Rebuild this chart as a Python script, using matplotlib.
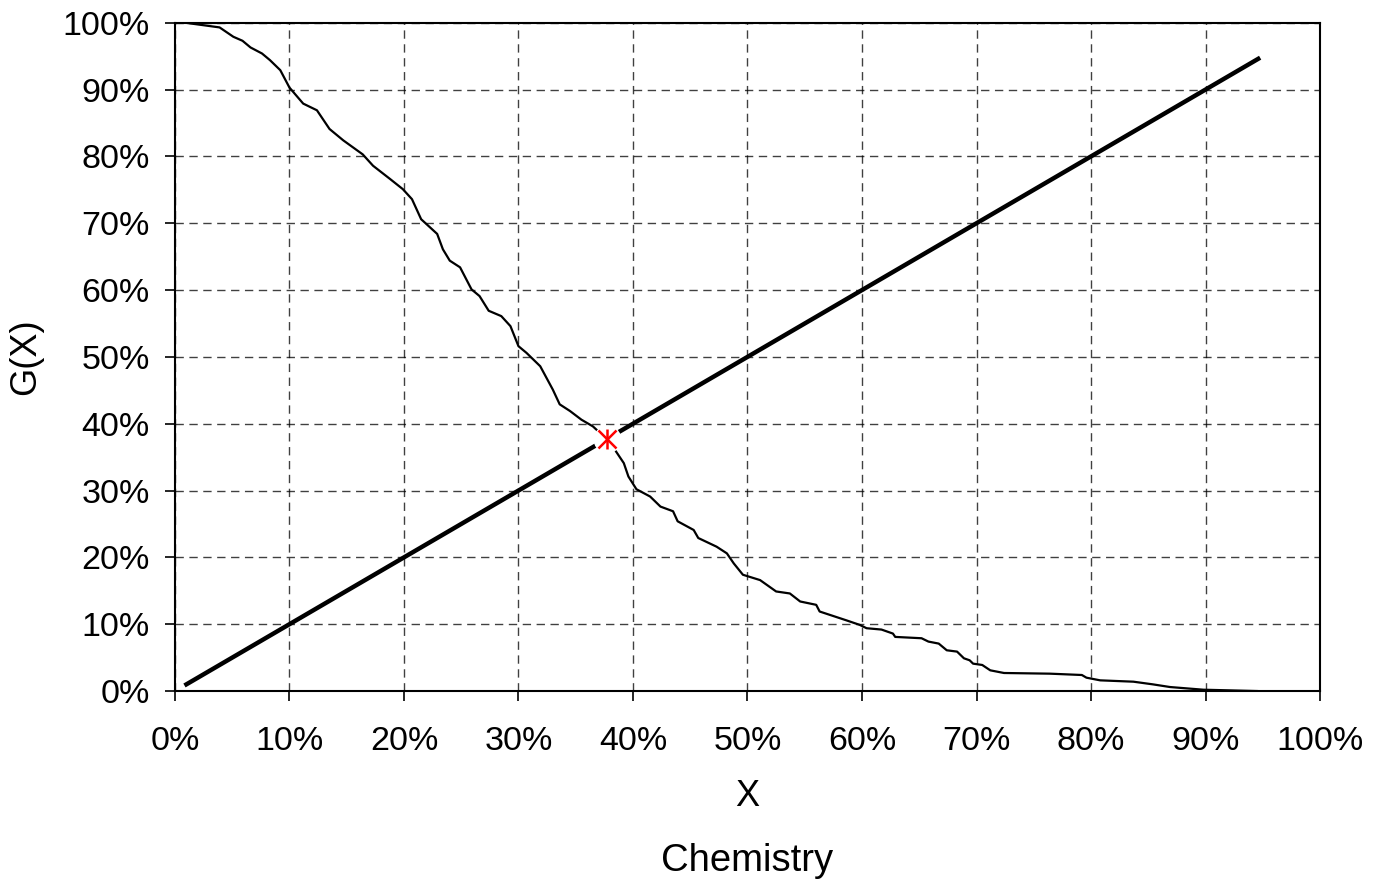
import matplotlib.pyplot as plt
from matplotlib.ticker import MultipleLocator, FuncFormatter

plt.rcParams['font.family'] = ['Liberation Sans', 'DejaVu Sans']

# descending curve G(X) (percent)
curve_x = [0.9, 3.9, 5.1, 5.9, 6.6, 7.6, 8.3, 9.2, 10.0, 11.2, 12.4, 13.5, 14.7,
           16.4, 17.3, 18.8, 19.9, 20.7, 21.5, 22.9, 23.4, 24.0, 24.9, 25.9,
           26.6, 27.4, 28.5, 29.3, 30.0, 30.7, 31.9, 33.0, 33.6, 34.5, 35.5,
           36.5, 37.7, 38.3, 39.2, 39.6, 40.3, 41.5, 42.4, 43.5, 43.9, 45.3,
           45.7, 47.3, 48.2, 48.8, 49.6, 51.1, 52.5, 53.7, 54.6, 56.0, 56.3,
           58.6, 59.8, 60.4, 61.7, 62.7, 62.9, 65.2, 65.8, 66.7, 67.4, 68.3,
           68.9, 69.4, 69.7, 70.5, 71.2, 72.4, 76.4, 79.2, 79.6, 80.8, 83.7,
           85.4, 86.9, 89.8, 94.5]
curve_y = [100.0, 99.3, 97.9, 97.3, 96.3, 95.4, 94.4, 92.9, 90.3, 87.9, 86.9,
           84.1, 82.4, 80.3, 78.6, 76.6, 75.1, 73.6, 70.6, 68.4, 66.1, 64.4,
           63.4, 60.1, 59.1, 56.9, 56.1, 54.6, 51.6, 50.6, 48.6, 45.1, 42.9,
           41.9, 40.6, 39.6, 37.7, 36.4, 34.1, 32.1, 30.2, 29.1, 27.6, 26.9,
           25.4, 24.1, 22.9, 21.6, 20.6, 19.1, 17.4, 16.6, 14.9, 14.6, 13.4,
           12.9, 11.9, 10.6, 9.9, 9.4, 9.2, 8.6, 8.1, 7.9, 7.4, 7.1, 6.1, 5.9,
           4.9, 4.6, 4.1, 3.9, 3.1, 2.7, 2.6, 2.4, 2.0, 1.6, 1.4, 1.0, 0.6,
           0.2, 0.0]

# reference line X = G(X)
diag_x = [1.0, 94.6]
diag_y = [1.0, 94.6]

# crossing point
cross_x = [37.7]
cross_y = [37.7]

fig = plt.figure(figsize=(13.84, 8.88), dpi=100)
ax = fig.add_axes([0.1264, 0.2218, 0.8274, 0.7526])

ax.plot(curve_x, curve_y, color='black', lw=1.6, zorder=3)
ax.plot(diag_x, diag_y, color='black', lw=3.2, zorder=3)
ax.plot(cross_x, cross_y, 'o', color='white', ms=19, zorder=4)
ax.plot(cross_x, cross_y, 'x', color='red', ms=13.5, mew=1.8, zorder=5)
ax.plot(cross_x, cross_y, '|', color='red', ms=14, mew=1.8, zorder=5)

ax.set_xlim(0, 100)
ax.set_ylim(0, 100)
ax.xaxis.set_major_locator(MultipleLocator(10))
ax.yaxis.set_major_locator(MultipleLocator(10))
pct = FuncFormatter(lambda v, p: f"{v:.0f}%")
ax.xaxis.set_major_formatter(pct)
ax.yaxis.set_major_formatter(pct)

ax.grid(True, linestyle=(0, (6, 4)), color='black', lw=1.0, alpha=0.75)
ax.set_axisbelow(True)
for s in ax.spines.values():
    s.set_linewidth(1.5)
ax.tick_params(direction='out', length=7, width=1.2, labelsize=24.5)
ax.tick_params(axis='x', pad=18)
ax.tick_params(axis='y', pad=11)

ax.set_xlabel('X', fontsize=26, labelpad=16)
ax.set_ylabel('G(X)', fontsize=26, labelpad=14)
fig.text(0.5 * (0.1264 + 0.9538), 1 - 861 / 888, 'Chemistry', fontsize=27.5,
         ha='center', va='center')

fig.savefig('out.png', dpi=100)
